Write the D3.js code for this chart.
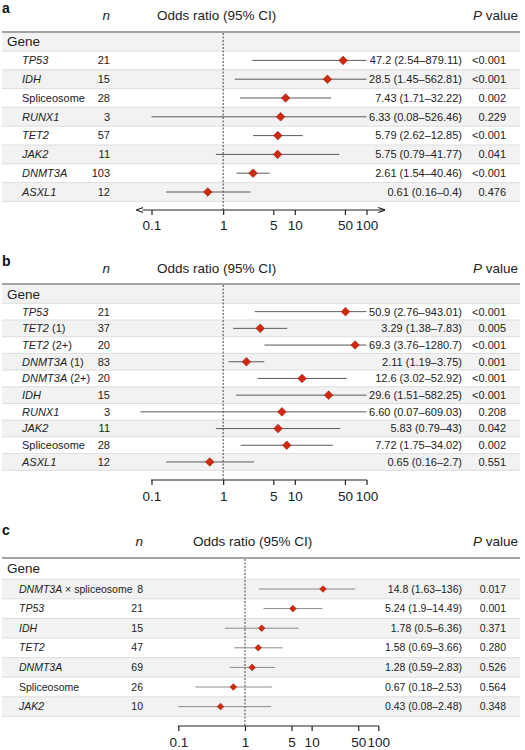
<!DOCTYPE html>
<html>
<head>
<meta charset="utf-8">
<script src="https://cdn.jsdelivr.net/npm/d3@7"></script>
<style>
  html, body { margin: 0; padding: 0; background: #fff; }
  svg { display: block; font-family: "Liberation Sans", Arial, Helvetica, sans-serif; }
</style>
</head>
<body>
<svg id="chart" width="525" height="750"></svg>
<script>
// ---------------- DATA ----------------
const tickValues = [0.1, 1, 5, 10, 50, 100];
const tickLabels = ["0.1", "1", "5", "10", "50", "100"];

// Panel a
const genesA = ["TP53", "IDH", "Spliceosome", "RUNX1", "TET2", "JAK2", "DNMT3A", "ASXL1"];
const nA = [21, 15, 28, 3, 57, 11, 103, 12];
const orA = [47.2, 28.5, 7.43, 6.33, 5.79, 5.75, 2.61, 0.61];
const loA = [2.54, 1.45, 1.71, 0.08, 2.62, 0.79, 1.54, 0.16];
const hiA = [879.11, 562.81, 32.22, 526.46, 12.85, 41.77, 4.46, 2.4];
const ciTextA = ["47.2 (2.54–879.11)", "28.5 (1.45–562.81)", "7.43 (1.71–32.22)", "6.33 (0.08–526.46)",
                 "5.79 (2.62–12.85)", "5.75 (0.79–41.77)", "2.61 (1.54–40.46)", "0.61 (0.16–0.4)"];
const pA = ["<0.001", "<0.001", "0.002", "0.229", "<0.001", "0.041", "<0.001", "0.476"];

// Panel b
const genesB = ["TP53", "TET2 (1)", "TET2 (2+)", "DNMT3A (1)", "DNMT3A (2+)", "IDH", "RUNX1", "JAK2", "Spliceosome", "ASXL1"];
const nB = [21, 37, 20, 83, 20, 15, 3, 11, 28, 12];
const orB = [50.9, 3.29, 69.3, 2.11, 12.6, 29.6, 6.60, 5.83, 7.72, 0.65];
const loB = [2.76, 1.38, 3.76, 1.19, 3.02, 1.51, 0.07, 0.79, 1.75, 0.16];
const hiB = [943.01, 7.83, 1280.7, 3.75, 52.92, 582.25, 609.03, 43, 34.02, 2.7];
const ciTextB = ["50.9 (2.76–943.01)", "3.29 (1.38–7.83)", "69.3 (3.76–1280.7)", "2.11 (1.19–3.75)",
                 "12.6 (3.02–52.92)", "29.6 (1.51–582.25)", "6.60 (0.07–609.03)", "5.83 (0.79–43)",
                 "7.72 (1.75–34.02)", "0.65 (0.16–2.7)"];
const pB = ["<0.001", "0.005", "<0.001", "0.001", "<0.001", "<0.001", "0.208", "0.042", "0.002", "0.551"];

// Panel c
const genesC = ["DNMT3A × spliceosome", "TP53", "IDH", "TET2", "DNMT3A", "Spliceosome", "JAK2"];
const nC = [8, 21, 15, 47, 69, 26, 10];
const orC = [14.8, 5.24, 1.78, 1.58, 1.28, 0.67, 0.43];
const loC = [1.63, 1.9, 0.5, 0.69, 0.59, 0.18, 0.08];
const hiC = [45, 14.49, 6.36, 3.66, 2.83, 2.53, 2.48];
const ciTextC = ["14.8 (1.63–136)", "5.24 (1.9–14.49)", "1.78 (0.5–6.36)", "1.58 (0.69–3.66)",
                 "1.28 (0.59–2.83)", "0.67 (0.18–2.53)", "0.43 (0.08–2.48)"];
const pC = ["0.017", "0.001", "0.371", "0.280", "0.526", "0.564", "0.348"];

// ---------------- DRAWING ----------------
const svg = d3.select("#chart");

const defs = svg.append("defs");
["arrowEnd", "arrowStart"].forEach((id, i) => {
  defs.append("marker").attr("id", id)
    .attr("viewBox", "0 0 10 10").attr("refX", i === 0 ? 9 : 1).attr("refY", 5)
    .attr("markerWidth", 6).attr("markerHeight", 6).attr("orient", "auto-start-reverse")
    .append("path").attr("d", "M0,1.5 L10,5 L0,8.5").attr("fill", "none")
    .attr("stroke", "#222").attr("stroke-width", 1.5);
});

function splitName(name) {
  if (name.startsWith("Spliceosome")) return [{t: name, it: false}];
  const i = name.indexOf(" ");
  if (i < 0) return [{t: name, it: true}];
  return [{t: name.slice(0, i), it: true}, {t: name.slice(i), it: false}];
}

function drawPanel(cfg, d) {
  const g = svg.append("g");
  const x = d3.scaleLog().domain([0.1, 100]).range(cfg.xr);
  const rows = d.genes.map((gname, i) => ({
    gene: gname, n: d.n[i], or: d.or[i], lo: d.lo[i], hi: d.hi[i], ci: d.ci[i], p: d.p[i], i
  }));
  const rowTop = cfg.topLine + cfg.geneH;
  const yc = i => rowTop + cfg.rowH * (i + 0.5);

  // panel letter
  g.append("text").attr("x", 2).attr("y", cfg.letterY).attr("font-weight", "bold")
    .attr("font-size", 14).attr("fill", "#111").text(cfg.letter);

  // header
  g.append("text").attr("x", cfg.nRight).attr("y", cfg.headerY).attr("text-anchor", "end")
    .attr("font-size", 13.5).attr("font-style", "italic").attr("fill", "#222").text("n");
  g.append("text").attr("x", cfg.orX).attr("y", cfg.headerY)
    .attr("font-size", 13.5).attr("fill", "#222").text("Odds ratio (95% CI)");
  const pv = g.append("text").attr("x", 473).attr("y", cfg.headerY)
    .attr("font-size", 13.5).attr("fill", "#222");
  pv.append("tspan").attr("font-style", "italic").text("P");
  pv.append("tspan").text(" value");

  // Gene row background
  g.append("rect").attr("x", 2).attr("y", cfg.topLine).attr("width", 518).attr("height", cfg.geneH)
    .attr("fill", cfg.shadeGene ? "#f2f2f2" : "#ffffff");
  // row backgrounds
  g.selectAll("rect.row").data(rows).join("rect").attr("class", "row")
    .attr("x", 2).attr("y", r => rowTop + cfg.rowH * r.i).attr("width", 518).attr("height", cfg.rowH)
    .attr("fill", r => ((r.i % 2 === 1) !== cfg.shadeFirst) ? "#f2f2f2" : "#ffffff");
  // separators
  g.selectAll("line.sep").data(d3.range(rows.length + 1)).join("line").attr("class", "sep")
    .attr("x1", 2).attr("x2", 520)
    .attr("y1", k => rowTop + cfg.rowH * k).attr("y2", k => rowTop + cfg.rowH * k)
    .attr("stroke", "#dddddd").attr("stroke-width", 1);
  // thick header line
  g.append("line").attr("x1", 2).attr("x2", 520).attr("y1", cfg.topLine).attr("y2", cfg.topLine)
    .attr("stroke", "#a3a3a3").attr("stroke-width", 2);

  g.append("text").attr("x", 7).attr("y", cfg.topLine + cfg.geneH / 2).attr("dy", "0.36em")
    .attr("font-size", 13.5).attr("fill", "#222").text("Gene");

  // reference dashed line
  g.append("line").attr("x1", x(1)).attr("x2", x(1)).attr("y1", cfg.topLine + 1).attr("y2", cfg.axisY)
    .attr("stroke", "#444").attr("stroke-width", 1).attr("stroke-dasharray", "2,1.5");

  // labels
  const lab = g.selectAll("text.gene").data(rows).join("text").attr("class", "gene")
    .attr("x", cfg.geneX).attr("y", r => yc(r.i)).attr("dy", "0.35em")
    .attr("font-size", cfg.fs).attr("fill", "#222");
  lab.each(function (r) {
    const t = d3.select(this);
    splitName(r.gene).forEach(s => t.append("tspan").attr("font-style", s.it ? "italic" : "normal").text(s.t));
  });
  g.selectAll("text.n").data(rows).join("text").attr("class", "n")
    .attr("x", cfg.nRight).attr("y", r => yc(r.i)).attr("dy", "0.35em").attr("text-anchor", "end")
    .attr("font-size", cfg.fs).attr("fill", "#222").text(r => r.n);
  g.selectAll("text.ci").data(rows).join("text").attr("class", "ci")
    .attr("x", 462).attr("y", r => yc(r.i)).attr("dy", "0.35em").attr("text-anchor", "end")
    .attr("font-size", cfg.fs).attr("fill", "#222").text(r => r.ci);
  g.selectAll("text.p").data(rows).join("text").attr("class", "p")
    .attr("x", 506).attr("y", r => yc(r.i)).attr("dy", "0.35em").attr("text-anchor", "end")
    .attr("font-size", cfg.fs).attr("fill", "#222").text(r => r.p);

  // CI lines
  const cl = v => Math.max(cfg.clip[0], Math.min(cfg.clip[1], v));
  g.selectAll("line.ci").data(rows).join("line").attr("class", "ci")
    .attr("x1", r => x(cl(r.lo))).attr("x2", r => x(cl(r.hi)))
    .attr("y1", r => yc(r.i)).attr("y2", r => yc(r.i))
    .attr("stroke", cfg.lineColor).attr("stroke-width", 1);
  // diamonds
  const s = cfg.dr;
  g.selectAll("path.pt").data(rows).join("path").attr("class", "pt")
    .attr("d", r => `M${x(r.or)},${yc(r.i) - s}L${x(r.or) + s},${yc(r.i)}L${x(r.or)},${yc(r.i) + s}L${x(r.or) - s},${yc(r.i)}Z`)
    .attr("fill", "#cf2a10").attr("stroke", "#a01a05").attr("stroke-width", 0.6);

  // axis
  const axis = d3.axisBottom(x).tickValues(tickValues).tickFormat((v, i) => tickLabels[i])
    .tickSize(5).tickSizeOuter(0).tickPadding(cfg.tickPad);
  const ax = g.append("g").attr("transform", `translate(0,${cfg.axisY})`).call(axis);
  ax.select(".domain").remove();
  ax.selectAll(".tick line").attr("stroke", "#222").attr("stroke-width", 1.2);
  ax.selectAll(".tick text").attr("font-size", 13.5).attr("fill", "#222")
    .attr("font-family", "\"Liberation Sans\", Arial, sans-serif");
  const axLine = g.append("line").attr("y1", cfg.axisY).attr("y2", cfg.axisY)
    .attr("stroke", "#222").attr("stroke-width", 1.2);
  if (cfg.arrows) {
    axLine.attr("x1", x(0.1) - 9).attr("x2", x(100) + 18)
      .attr("marker-start", "url(#arrowStart)").attr("marker-end", "url(#arrowEnd)");
  } else {
    axLine.attr("x1", x(0.1) - 0.6).attr("x2", x(100) + 0.6);
  }
}

drawPanel({
  letter: "a", letterY: 13, headerY: 20, topLine: 32, geneH: 19, rowH: 18.8,
  axisY: 210, tickPad: 5, xr: [151.5, 366.5], nRight: 110, geneX: 22, orX: 157,
  shadeGene: true, shadeFirst: false, fs: 11, dr: 4.3, lineColor: "#5a5a5a", arrows: true, clip: [0.1, 100]
}, {genes: genesA, n: nA, or: orA, lo: loA, hi: hiA, ci: ciTextA, p: pA});

drawPanel({
  letter: "b", letterY: 266, headerY: 272.5, topLine: 284, geneH: 19.3, rowH: 16.7,
  axisY: 480, tickPad: 6, xr: [151.5, 366.5], nRight: 110, geneX: 22, orX: 157,
  shadeGene: true, shadeFirst: false, fs: 11, dr: 4.3, lineColor: "#5a5a5a", arrows: false, clip: [0.06, 100]
}, {genes: genesB, n: nB, or: orB, lo: loB, hi: hiB, ci: ciTextB, p: pB});

drawPanel({
  letter: "c", letterY: 535, headerY: 545.5, topLine: 558, geneH: 21.2, rowH: 19.6,
  axisY: 726, tickPad: 6, xr: [178.3, 378.3], nRight: 143, geneX: 19, orX: 193,
  shadeGene: false, shadeFirst: true, fs: 10.5, dr: 3.3, lineColor: "#8a8a8a", arrows: false, clip: [0.1, 100]
}, {genes: genesC, n: nC, or: orC, lo: loC, hi: hiC, ci: ciTextC, p: pC});
</script>
</body>
</html>
